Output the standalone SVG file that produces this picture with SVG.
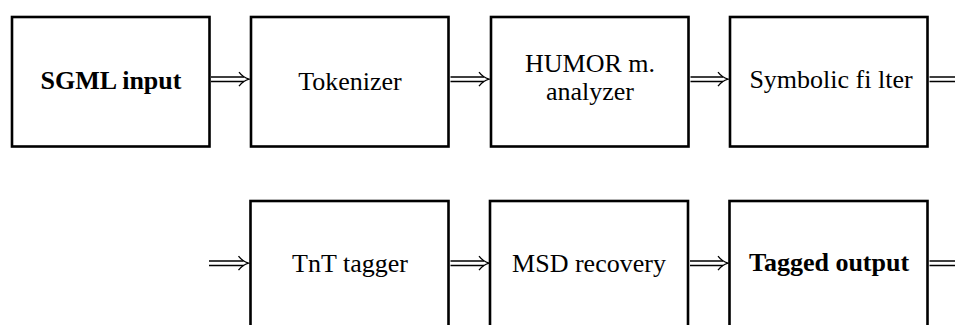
<svg xmlns="http://www.w3.org/2000/svg" width="955" height="325" viewBox="0 0 955 325">
<style>
.box{fill:#fff;stroke:#000;stroke-width:2.6}
.t{font-family:"Liberation Serif","Times New Roman",serif;font-size:26px;text-anchor:middle;fill:#000}
.b{font-weight:bold}
.ln{stroke:#000;stroke-width:1.3;fill:none}
</style>
<defs>
<path id="head" d="M-10,-7 Q-6,-1.8 0,0 Q-6,1.8 -10,7" fill="none" stroke="#000" stroke-width="1.3"/>
</defs>
<rect width="955" height="325" fill="#fff"/>
<g id="connectors">
  <path class="ln" d="M211,77 H244 M211,81.5 H244"/><use href="#head" x="249" y="79.2"/>
  <path class="ln" d="M450.5,77 H484 M450.5,81.5 H484"/><use href="#head" x="489" y="79.2"/>
  <path class="ln" d="M690.5,77 H723 M690.5,81.5 H723"/><use href="#head" x="728" y="79.2"/>
  <path class="ln" d="M929.5,77 H955 M929.5,81.5 H955"/>
  <path class="ln" d="M209,261 H243.5 M209,265.5 H243.5"/><use href="#head" x="248.5" y="263.2"/>
  <path class="ln" d="M450.5,261 H484 M450.5,265.5 H484"/><use href="#head" x="489" y="263.2"/>
  <path class="ln" d="M690,261 H723 M690,265.5 H723"/><use href="#head" x="728" y="263.2"/>
  <path class="ln" d="M929.5,261 H955 M929.5,265.5 H955"/>
</g>
<g id="sgml"><rect class="box" x="12" y="17" width="197.5" height="129.5"/><text class="t b" x="111" y="89">SGML input</text></g>
<g id="tokenizer"><rect class="box" x="251" y="17" width="197.5" height="129.5"/><text class="t" x="350" y="90">Tokenizer</text></g>
<g id="humor"><rect class="box" x="491" y="17" width="197.5" height="129.5"/><text class="t" x="590" y="72">HUMOR m.</text><text class="t" x="590" y="100">analyzer</text></g>
<g id="symbolic"><rect class="box" x="730" y="17" width="197.5" height="129.5"/><text class="t" x="831" y="88">Symbolic fi lter</text></g>
<g id="tnt"><rect class="box" x="250.5" y="201" width="198" height="130"/><text class="t" x="350" y="272">TnT tagger</text></g>
<g id="msd"><rect class="box" x="490" y="201" width="198" height="130"/><text class="t" x="589" y="272">MSD recovery</text></g>
<g id="tagged"><rect class="box" x="729.5" y="201" width="198" height="130"/><text class="t b" x="829" y="271">Tagged output</text></g>
</svg>
